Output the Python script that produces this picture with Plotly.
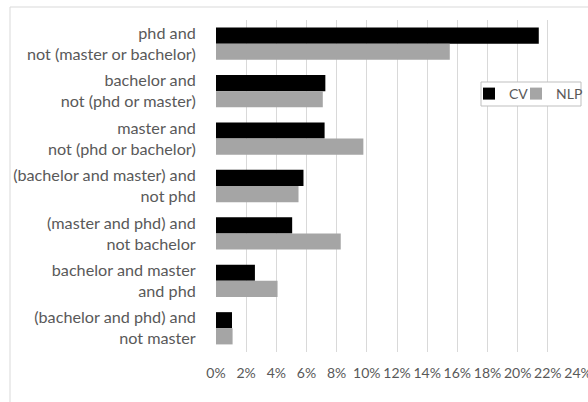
import plotly.graph_objects as go

categories = [
    "phd and<br>not (master or bachelor)",
    "bachelor and<br>not (phd or master)",
    "master and<br>not (phd or bachelor)",
    "(bachelor and master) and<br>not phd",
    "(master and phd) and<br>not bachelor",
    "bachelor and master<br>and phd",
    "(bachelor and phd) and<br>not master",
]
cv_values = [21.4, 7.25, 7.2, 5.8, 5.05, 2.58, 1.06]
nlp_values = [15.5, 7.08, 9.77, 5.47, 8.27, 4.08, 1.1]
tick_vals = list(range(0, 25, 2))
tick_text = [f"{v}%" for v in tick_vals]

FONT = "Lato"
TXT = "#595959"
GRID = "#D9D9D9"

fig = go.Figure()
fig.add_trace(go.Bar(name="CV", y=categories, x=cv_values, orientation="h",
                     marker=dict(color="#000000", line=dict(width=0)), legend="legend"))
fig.add_trace(go.Bar(name="NLP", y=categories, x=nlp_values, orientation="h",
                     marker=dict(color="#A5A5A5", line=dict(width=0)), legend="legend2"))

W, H = 588, 402
L, R, T, B = 216, 10, 20, 50
pw = W - L - R
ph = H - T - B

def px_x(p):
    return (p - L) / pw

def px_y(p):
    return (H - B - p) / ph

leg_common = dict(orientation="h", xanchor="left", yanchor="middle",
                  bgcolor="rgba(0,0,0,0)", borderwidth=0,
                  font=dict(family=FONT, size=14, color=TXT),
                  itemwidth=30, tracegroupgap=0)

fig.update_layout(
    width=W, height=H,
    margin=dict(l=L, r=R, t=T, b=B, autoexpand=False),
    paper_bgcolor="white", plot_bgcolor="white",
    barmode="group", bargap=0.32, bargroupgap=0,
    font=dict(family=FONT, size=16, color=TXT),
    showlegend=True,
    legend=dict(x=px_x(469), y=px_y(94), **leg_common),
    legend2=dict(x=px_x(516), y=px_y(94), **leg_common),
    xaxis=dict(range=[0, 24], tickvals=tick_vals, ticktext=tick_text, tickangle=0,
               showgrid=True, gridcolor=GRID, gridwidth=1, zeroline=False,
               showline=False, ticks="outside", ticklen=8, tickcolor="rgba(0,0,0,0)",
               ticklabeloverflow="allow",
               tickfont=dict(family=FONT, size=14, color=TXT), fixedrange=True),
    yaxis=dict(autorange="reversed", showgrid=False, zeroline=False, showline=False,
               ticks="outside", ticklen=16, tickcolor="rgba(0,0,0,0)",
               tickfont=dict(family=FONT, size=16.2, color=TXT), fixedrange=True),
    shapes=[
        dict(type="line", xref="paper", yref="paper", x0=px_x(10), x1=px_x(600),
             y0=px_y(7), y1=px_y(7), line=dict(color=GRID, width=1)),
        dict(type="line", xref="paper", yref="paper", x0=px_x(10), x1=px_x(10),
             y0=px_y(7), y1=px_y(410), line=dict(color=GRID, width=1)),
        dict(type="rect", xref="paper", yref="paper", layer="above",
             x0=px_x(481), x1=px_x(581), y0=px_y(106), y1=px_y(82),
             fillcolor="white", line=dict(color="#BFBFBF", width=1)),
    ],
)

fig.write_html("out.html")
